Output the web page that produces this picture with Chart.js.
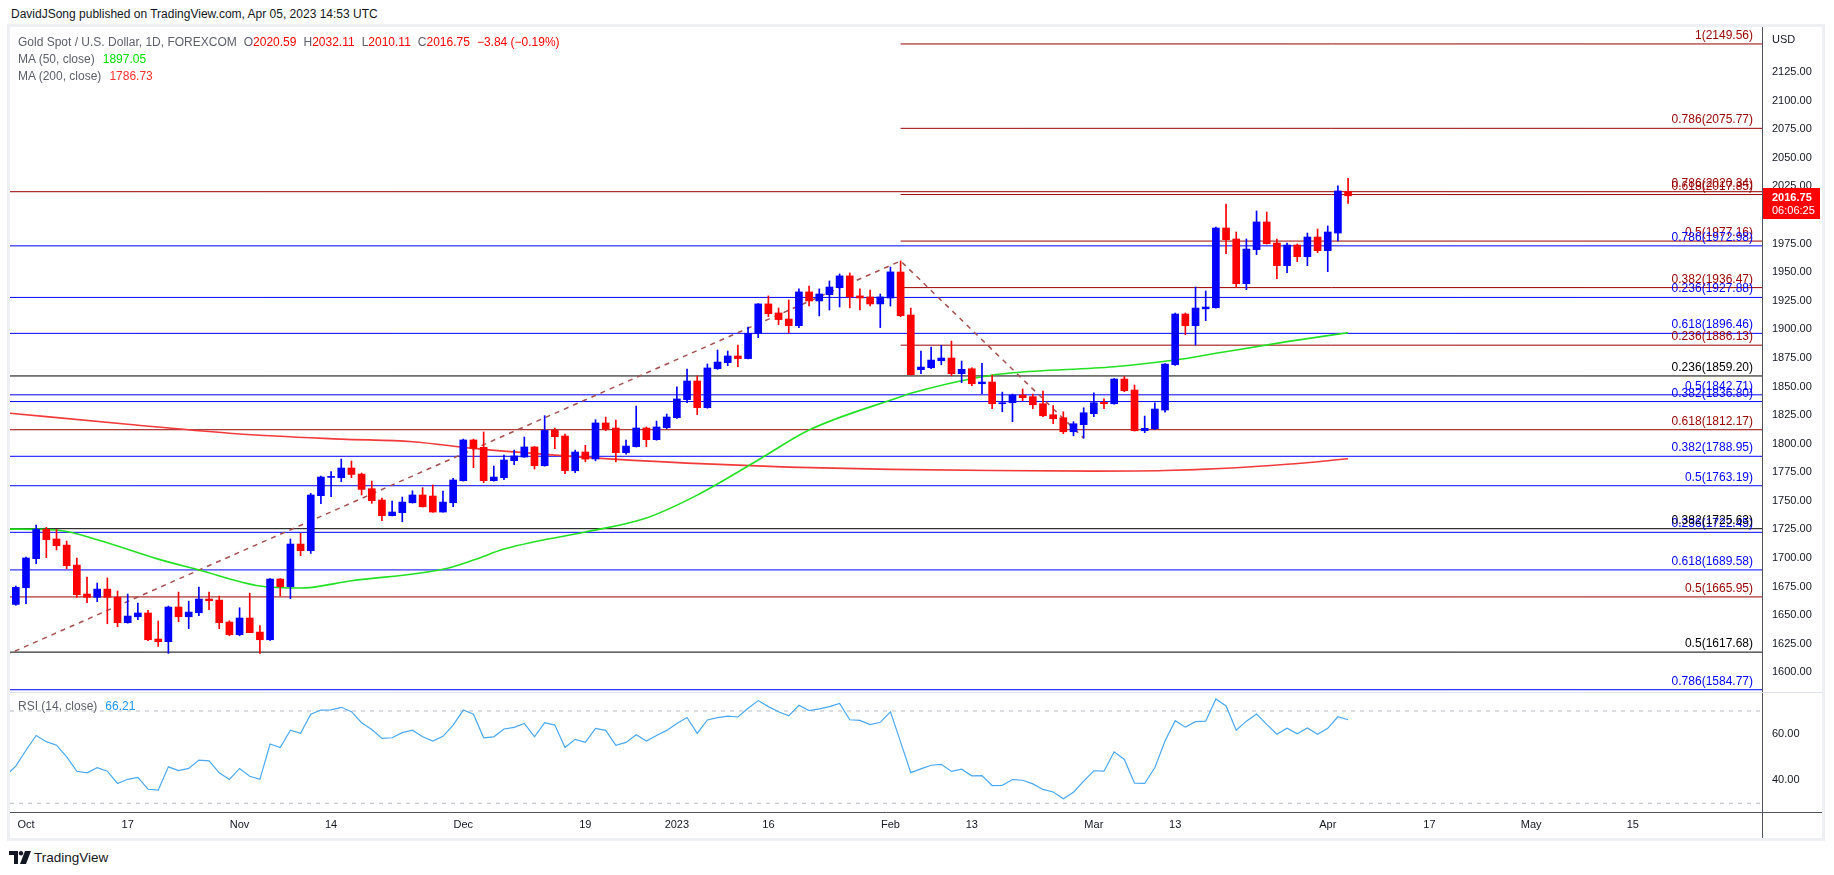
<!DOCTYPE html>
<html>
<head>
<meta charset="utf-8">
<title>Gold Spot / U.S. Dollar, 1D, FOREXCOM</title>
<script src="https://cdn.jsdelivr.net/npm/chart.js@4.4.1/dist/chart.umd.min.js"></script>
<style>
  body { margin: 0; width: 1834px; height: 875px; background: #fff; position: relative; overflow: hidden;
         font-family: "Liberation Sans", Arial, sans-serif; color: #131722; }
  .abs { position: absolute; white-space: nowrap; }
  #frame { position: absolute; left: 7px; top: 24px; width: 1812px; height: 811px; border: 3px solid #eef0f4; }
  #mainBox { position: absolute; left: 10px; top: 27px; width: 1812px; height: 665px; }
  #rsiBox { position: absolute; left: 10px; top: 692px; width: 1812px; height: 146px; }
  .legend { font-size: 12px; line-height: 15px; color: #5d606b; }
  .red { color: #ff0000; }
  .gap { margin-left: 7px; }
</style>
</head>
<body>
<div id="frame"></div>
<div id="mainBox"><canvas id="mainChart"></canvas></div>
<div id="rsiBox"><canvas id="rsiChart"></canvas></div>
<div class="abs" style="left:10px;top:692px;width:1812px;height:1px;background:#e0e3eb"></div>
<div class="abs" style="left:1762px;top:812px;width:60px;height:1px;background:#50535e"></div>
<div class="abs" style="left:1762px;top:812px;width:1px;height:26px;background:#50535e"></div>

<div class="abs" style="left:11px;top:7px;font-size:12px;line-height:15px;color:#131722">DavidJSong published on TradingView.com, Apr 05, 2023 14:53 UTC</div>
<div class="abs legend" style="left:18px;top:35px">Gold Spot / U.S. Dollar, 1D, FOREXCOM<span class="gap">O</span><span class="red">2020.59</span><span class="gap">H</span><span class="red">2032.11</span><span class="gap">L</span><span class="red">2010.11</span><span class="gap">C</span><span class="red">2016.75</span><span class="gap red">−3.84 (−0.19%)</span></div>
<div class="abs legend" style="left:18px;top:52px">MA (50, close)<span style="margin-left:8px;color:#00dd00">1897.05</span></div>
<div class="abs legend" style="left:18px;top:69px">MA (200, close)<span style="margin-left:8px;color:#ff3030">1786.73</span></div>
<div class="abs legend" style="left:18px;top:699px">RSI (14, close)<span style="margin-left:8px;color:#2196f3">66.21</span></div>

<div class="abs" style="left:9px;top:849px;height:16px;display:flex;align-items:center">
  <svg width="22" height="13" viewBox="0 0 22 13"><path d="M0 0H9V13H5V4H0Z" fill="#131722"/><circle cx="12" cy="2.2" r="2.2" fill="#131722"/><path d="M16 0H22L17 13H11Z" fill="#131722"/></svg>
  <span style="margin-left:3px;font-size:13.5px;color:#131722">TradingView</span>
</div>

<script>
// bar index 0 = Oct 3 2022 (weekdays, Dec 26 and Jan 2 missing); first candle is Sep 30
const firstBar = -1;
const open = [
  1659.4, 1674.0, 1699.4, 1725.0, 1716.6, 1711.3, 1693.8, 1668.5, 1665.6, 1672.8,
  1665.6, 1643.4, 1648.6, 1651.9, 1629.1, 1626.8, 1657.1, 1648.6, 1652.1, 1664.1,
  1663.2, 1644.0, 1632.9, 1647.5, 1635.2, 1628.5, 1681.6, 1674.9, 1712.2, 1706.4,
  1754.5, 1770.5, 1770.2, 1778.7, 1773.4, 1760.6, 1750.7, 1737.0, 1739.6, 1748.3,
  1755.1, 1754.2, 1740.2, 1748.3, 1767.6, 1803.2, 1796.8, 1767.6, 1770.2, 1785.1,
  1788.3, 1797.1, 1780.7, 1811.6, 1806.7, 1776.3, 1792.7, 1786.6, 1818.1, 1813.7,
  1792.1, 1797.4, 1813.7, 1803.5, 1814.0, 1822.7, 1838.5, 1854.8, 1831.5, 1865.6,
  1870.8, 1876.7, 1874.4, 1896.5, 1922.2, 1914.3, 1909.0, 1903.2, 1932.7, 1924.8,
  1930.3, 1936.4, 1946.7, 1929.2, 1928.3, 1922.2, 1927.4, 1950.1, 1912.5, 1864.7,
  1866.4, 1872.5, 1874.9, 1861.2, 1865.5, 1852.4, 1853.9, 1834.9, 1835.8, 1842.5,
  1841.1, 1834.9, 1825.3, 1822.7, 1810.4, 1816.6, 1826.2, 1836.1, 1834.9, 1856.5,
  1846.9, 1811.3, 1813.1, 1829.4, 1869.0, 1913.4, 1903.2, 1917.9, 1918.9, 1988.6,
  1979.0, 1939.9, 1969.7, 1993.9, 1975.5, 1955.7, 1973.7, 1963.5, 1980.7, 1968.8,
  1984.2, 2020.59
];
const high = [
  1675.5, 1700.8, 1728.8, 1726.8, 1725.0, 1714.8, 1700.0, 1683.4, 1678.1, 1682.5,
  1671.1, 1668.5, 1660.6, 1654.2, 1644.9, 1658.0, 1670.2, 1662.3, 1674.6, 1670.2,
  1666.7, 1645.1, 1656.5, 1669.3, 1640.8, 1682.0, 1682.0, 1716.6, 1721.6, 1756.5,
  1771.7, 1775.5, 1786.5, 1784.8, 1774.3, 1767.3, 1752.4, 1749.8, 1753.3, 1758.8,
  1761.5, 1763.8, 1758.6, 1769.6, 1804.0, 1804.0, 1810.2, 1780.4, 1790.0, 1794.4,
  1805.8, 1797.5, 1824.5, 1813.7, 1808.4, 1794.4, 1798.6, 1821.0, 1823.3, 1820.7,
  1803.2, 1832.9, 1814.6, 1819.8, 1825.9, 1849.6, 1865.3, 1859.2, 1869.7, 1881.9,
  1881.0, 1886.3, 1902.0, 1922.5, 1929.2, 1918.7, 1925.7, 1935.3, 1937.9, 1935.3,
  1942.3, 1948.4, 1949.3, 1935.3, 1934.4, 1930.9, 1954.5, 1959.8, 1918.6, 1881.0,
  1884.5, 1886.0, 1889.7, 1872.3, 1866.4, 1870.2, 1860.0, 1845.1, 1843.4, 1847.8,
  1843.4, 1846.0, 1833.2, 1827.9, 1819.2, 1831.4, 1844.5, 1839.3, 1857.0, 1858.8,
  1851.3, 1824.1, 1835.8, 1870.0, 1914.2, 1914.3, 1937.0, 1933.5, 1989.5, 2009.6,
  1985.1, 1979.0, 2003.5, 2002.6, 1979.0, 1975.5, 1974.6, 1984.2, 1987.7, 1990.4,
  2025.4, 2032.11
];
const low = [
  1658.6, 1660.0, 1695.0, 1700.3, 1707.0, 1690.6, 1665.6, 1660.9, 1661.8, 1642.5,
  1639.9, 1643.0, 1646.0, 1627.7, 1622.7, 1616.6, 1644.3, 1638.2, 1649.5, 1654.8,
  1638.2, 1632.0, 1632.0, 1634.7, 1616.6, 1628.0, 1666.7, 1664.4, 1702.0, 1704.0,
  1747.5, 1753.6, 1766.7, 1770.2, 1755.1, 1747.8, 1732.6, 1736.8, 1731.7, 1748.0,
  1744.6, 1740.0, 1740.0, 1744.8, 1767.2, 1779.0, 1765.8, 1767.2, 1768.5, 1781.6,
  1788.0, 1777.8, 1780.3, 1795.6, 1773.7, 1774.6, 1784.2, 1785.0, 1811.4, 1784.0,
  1790.9, 1797.0, 1797.4, 1803.0, 1813.1, 1822.0, 1835.9, 1825.4, 1831.0, 1865.0,
  1868.2, 1867.3, 1874.0, 1892.7, 1911.1, 1904.1, 1897.1, 1901.5, 1920.4, 1911.7,
  1916.9, 1919.5, 1918.7, 1916.9, 1920.4, 1901.5, 1920.4, 1911.0, 1860.0, 1861.2,
  1865.5, 1869.0, 1859.4, 1853.3, 1850.7, 1843.7, 1830.5, 1827.9, 1819.2, 1837.6,
  1830.5, 1823.6, 1817.4, 1808.7, 1806.9, 1804.8, 1823.6, 1830.5, 1834.5, 1845.4,
  1811.0, 1809.6, 1812.2, 1827.6, 1868.5, 1895.3, 1886.3, 1907.6, 1918.5, 1966.2,
  1936.4, 1934.7, 1965.3, 1974.5, 1944.3, 1949.5, 1959.2, 1955.7, 1967.0, 1950.4,
  1977.2, 2010.11
];
const close = [
  1674.3, 1700.0, 1725.0, 1716.0, 1710.8, 1693.3, 1667.9, 1665.6, 1672.8, 1665.6,
  1643.4, 1649.2, 1651.9, 1628.5, 1626.8, 1657.1, 1648.6, 1652.7, 1664.1, 1662.6,
  1643.4, 1632.9, 1647.5, 1634.7, 1628.5, 1681.6, 1674.9, 1712.2, 1706.4, 1755.1,
  1770.8, 1771.0, 1778.7, 1773.1, 1760.0, 1750.1, 1737.0, 1740.2, 1748.9, 1755.1,
  1744.8, 1740.2, 1748.9, 1768.2, 1803.2, 1795.9, 1767.6, 1770.8, 1785.7, 1789.2,
  1797.1, 1780.7, 1811.6, 1806.1, 1776.3, 1792.7, 1786.5, 1818.1, 1812.8, 1792.1,
  1797.9, 1813.7, 1803.5, 1814.6, 1823.3, 1839.1, 1854.8, 1831.5, 1866.2, 1871.4,
  1876.7, 1874.4, 1896.5, 1922.2, 1913.7, 1908.5, 1903.2, 1932.7, 1924.8, 1930.9,
  1937.0, 1946.7, 1928.3, 1927.4, 1922.2, 1928.3, 1950.2, 1911.9, 1860.3, 1867.0,
  1873.1, 1874.9, 1861.2, 1865.0, 1852.4, 1853.9, 1834.9, 1835.8, 1842.5, 1840.2,
  1834.0, 1824.4, 1821.8, 1810.4, 1817.4, 1827.0, 1835.8, 1834.9, 1856.5, 1846.3,
  1811.3, 1813.4, 1830.3, 1869.6, 1913.4, 1903.2, 1918.6, 1919.5, 1988.6, 1978.4,
  1939.9, 1970.2, 1993.9, 1974.9, 1955.7, 1973.7, 1963.5, 1980.7, 1968.8, 1985.1,
  2021.0, 2016.75
];

// moving averages, read at a few bars along each curve
const ma50Idx = [-2, 3, 7, 13, 17, 23, 27, 32, 41, 44, 47, 50, 55, 61, 66, 72, 77, 86, 87, 94, 97, 107, 113, 117, 124, 130];
const ma50Val = [1725.3, 1724.5, 1716.0, 1699.0, 1689.5, 1675.5, 1673.7, 1680.1, 1690.1, 1698.2, 1707.8, 1714.2, 1722.7,
                 1735.0, 1755.0, 1785.7, 1811.9, 1841.0, 1844.0, 1858.5, 1862.0, 1867.3, 1873.1, 1879.0, 1889.2, 1897.05];
const ma200Idx = [-2, 10, 21, 31, 38, 44, 49, 55, 65, 75, 85, 95, 105, 112, 118, 124, 130];
const ma200Val = [1827.0, 1817.0, 1808.4, 1804.0, 1801.7, 1795.9, 1792.1, 1788.0, 1783.0, 1779.5, 1777.5, 1776.5, 1776.0,
                  1776.5, 1778.5, 1782.0, 1786.73];

// trend line: Sep 28 low -> Feb 2 high -> Feb 28 low
const trendIdx = [-2, 86, 104];
const trendVal = [1614.96, 1959.76, 1804.76];

// fibonacci levels
const fibRatio = ['1', '0.786', '0.618', '0.5', '0.382', '0.236',
                  '0.786', '0.618', '0.5',
                  '0.786', '0.618', '0.5', '0.382', '0.236',
                  '0.236', '0.382', '0.5', '0.618', '0.786',
                  '0.236', '0.382', '0.5'];
const fibPrice = [2149.56, 2075.77, 2017.85, 1977.16, 1936.47, 1886.13,
                  2020.34, 1812.17, 1665.95,
                  1972.98, 1896.46, 1842.71, 1788.95, 1722.45,
                  1927.88, 1836.80, 1763.19, 1689.58, 1584.77,
                  1859.20, 1725.63, 1617.68];
const fibSet = ['A', 'A', 'A', 'A', 'A', 'A', 'B', 'B', 'B', 'C', 'C', 'C', 'C', 'C',
                'D', 'D', 'D', 'D', 'D', 'E', 'E', 'E'];

// RSI (14), first value is bar -2
const rsiFirst = -2;
const rsi = [
  42.0, 46.1, 53.0, 59.4, 56.7, 55.2, 50.1, 43.9, 43.2, 45.4,
  43.9, 38.6, 40.4, 41.2, 36.1, 35.7, 45.8, 44.2, 45.1, 48.7,
  48.4, 43.2, 40.3, 45.1, 41.7, 40.4, 55.7, 54.2, 61.7, 60.3,
  68.6, 70.4, 70.5, 71.6, 69.7, 64.9, 62.0, 58.1, 58.4, 60.6,
  61.7, 58.8, 57.0, 59.0, 63.9, 70.4, 68.6, 58.4, 58.8, 62.2,
  62.9, 64.6, 58.8, 64.9, 63.9, 54.2, 57.7, 56.4, 62.5, 61.6,
  55.1, 56.4, 59.7, 57.0, 59.4, 61.6, 64.6, 67.2, 60.3, 66.1,
  67.1, 67.8, 67.4, 71.2, 74.5, 71.9, 69.7, 67.9, 72.5, 70.2,
  70.9, 71.9, 73.3, 66.2, 65.9, 64.1, 65.1, 69.6, 56.5, 43.3,
  44.9, 46.5, 46.9, 43.8, 44.8, 41.9, 42.0, 37.7, 37.8, 40.3,
  40.0, 38.4, 36.0, 34.9, 32.0, 34.8, 39.6, 44.1, 43.9, 52.3,
  49.0, 38.7, 38.6, 45.5, 57.0, 65.8, 63.0, 65.4, 65.6, 75.2,
  72.2, 61.7, 65.6, 68.7, 64.2, 59.9, 62.5, 60.1, 62.6, 59.9,
  62.5, 67.5, 66.21
];
const rsiBands = [70, 30];

// axes
const dateTickIdx = [0, 10, 21, 30, 43, 55, 64, 73, 85, 93, 105, 113, 128, 138, 148, 158];
const dateTickLbl = ['Oct', '17', 'Nov', '14', 'Dec', '19', '2023', '16', 'Feb', '13', 'Mar', '13', 'Apr', '17', 'May', '15'];
const priceTicks = [1600, 1625, 1650, 1675, 1700, 1725, 1750, 1775, 1800, 1825, 1850, 1875, 1900, 1925, 1950, 1975, 2000, 2025, 2050, 2075, 2100, 2125];
const rsiTicks = [40, 60];

const xMin = -1.573, xMax = 170.7;
const FONT = '"Liberation Sans", Arial, sans-serif';
const UP = '#0000ff', DOWN = '#ff0000';
const setColor = { A: '#990000', B: '#990000', C: '#0000ff', D: '#0000ff', E: '#000000' };
const setFrom = { A: 86 };

Chart.defaults.font.family = FONT;

function zeroPad(scale) {
    scale.paddingTop = 0;
    scale.paddingBottom = 0;
    scale.paddingLeft = 0;
    scale.paddingRight = 0;
}

function fibDatasets() {
    return fibPrice.map((p, k) => ({
        type: 'line',
        data: [{ x: setFrom[fibSet[k]] !== undefined ? setFrom[fibSet[k]] : xMin, y: p }, { x: xMax, y: p }],
        borderColor: setColor[fibSet[k]],
        borderWidth: 1,
        pointRadius: 0,
        order: 5
    }));
}

const fibLabels = {
    id: 'fibLabels',
    afterDatasetsDraw(chart) {
        const { ctx, chartArea, scales: { y } } = chart;
        ctx.save();
        ctx.font = '12px ' + FONT;
        ctx.textAlign = 'right';
        ctx.textBaseline = 'alphabetic';
        fibPrice.forEach((p, k) => {
            ctx.fillStyle = setColor[fibSet[k]];
            ctx.fillText(fibRatio[k] + '(' + p.toFixed(2) + ')', chartArea.right - 9, y.getPixelForValue(p) - 5);
        });
        ctx.restore();
    }
};

const priceTag = {
    id: 'priceTag',
    afterDraw(chart) {
        const { ctx, chartArea, scales: { y } } = chart;
        const last = close[close.length - 1];
        const py = Math.round(y.getPixelForValue(last));
        ctx.save();
        ctx.textBaseline = 'middle';
        ctx.textAlign = 'left';
        ctx.fillStyle = '#131722';
        ctx.font = '11px ' + FONT;
        ctx.fillText('USD', chartArea.right + 10, 13);
        ctx.fillStyle = '#ff0000';
        ctx.fillRect(chartArea.right + 1, py - 8, 57, 31);
        ctx.fillStyle = '#ffffff';
        ctx.font = 'bold 11px ' + FONT;
        ctx.fillText(last.toFixed(2), chartArea.right + 10, py + 2);
        ctx.font = '11px ' + FONT;
        ctx.fillText('06:06:25', chartArea.right + 10, py + 15);
        ctx.restore();
    }
};

function createMainChart(ctx) {
    const bars = open.map((o, k) => firstBar + k);
    const colors = open.map((o, k) => close[k] >= o ? UP : DOWN);
    return new Chart(ctx, {
        type: 'bar',
        data: {
            datasets: [
                {
                    type: 'bar',
                    data: bars.map((x, k) => ({ x: x, y: [open[k], close[k]] })),
                    backgroundColor: colors,
                    barThickness: 7,
                    minBarLength: 1,
                    grouped: false,
                    order: 0
                },
                {
                    type: 'bar',
                    data: bars.map((x, k) => ({ x: x, y: [low[k], high[k]] })),
                    backgroundColor: colors,
                    barThickness: 1,
                    grouped: false,
                    order: 1
                },
                {
                    type: 'line',
                    data: ma50Idx.map((x, k) => ({ x: x, y: ma50Val[k] })),
                    borderColor: '#22e022',
                    borderWidth: 1.6,
                    pointRadius: 0,
                    cubicInterpolationMode: 'monotone',
                    order: 2
                },
                {
                    type: 'line',
                    data: ma200Idx.map((x, k) => ({ x: x, y: ma200Val[k] })),
                    borderColor: '#f23a3a',
                    borderWidth: 1.6,
                    pointRadius: 0,
                    cubicInterpolationMode: 'monotone',
                    order: 3
                },
                {
                    type: 'line',
                    data: trendIdx.map((x, k) => ({ x: x, y: trendVal[k] })),
                    borderColor: '#a5504f',
                    borderWidth: 1.5,
                    borderDash: [5, 5],
                    pointRadius: 0,
                    order: 4
                },
                ...fibDatasets()
            ]
        },
        options: {
            responsive: true,
            maintainAspectRatio: false,
            animation: false,
            events: [],
            layout: { padding: 0 },
            plugins: { legend: { display: false }, tooltip: { enabled: false } },
            scales: {
                x: { type: 'linear', min: xMin, max: xMax, offset: false, display: false },
                y: {
                    type: 'linear',
                    position: 'right',
                    min: 1582.8,
                    max: 2164.4,
                    grid: { display: false, drawTicks: false },
                    border: { display: true, color: '#50535e' },
                    ticks: {
                        padding: 10,
                        color: '#131722',
                        font: { size: 11 },
                        callback: (v) => v.toFixed(2)
                    },
                    afterBuildTicks: (s) => { s.ticks = priceTicks.map(v => ({ value: v })); },
                    afterFit: (s) => { s.width = 60; zeroPad(s); }
                }
            }
        },
        plugins: [fibLabels, priceTag]
    });
}

function createRsiChart(ctx) {
    return new Chart(ctx, {
        type: 'line',
        data: {
            datasets: [
                {
                    data: rsi.map((v, k) => ({ x: rsiFirst + k, y: v })),
                    borderColor: '#4aa8f2',
                    borderWidth: 1.2,
                    pointRadius: 0,
                    order: 0
                },
                ...rsiBands.map(b => ({
                    data: [{ x: xMin, y: b }, { x: xMax, y: b }],
                    borderColor: '#b8bbc4',
                    borderWidth: 1,
                    borderDash: [4, 5],
                    pointRadius: 0,
                    order: 1
                }))
            ]
        },
        options: {
            responsive: true,
            maintainAspectRatio: false,
            animation: false,
            events: [],
            layout: { padding: 0 },
            plugins: { legend: { display: false }, tooltip: { enabled: false } },
            scales: {
                x: {
                    type: 'linear',
                    min: xMin,
                    max: xMax,
                    grid: { display: false, drawTicks: false },
                    border: { display: true, color: '#50535e' },
                    ticks: {
                        padding: 6,
                        color: '#131722',
                        font: { size: 11 },
                        maxRotation: 0,
                        autoSkip: false,
                        callback: (v, i) => dateTickLbl[i]
                    },
                    afterBuildTicks: (s) => { s.ticks = dateTickIdx.map(v => ({ value: v })); },
                    afterFit: (s) => { s.height = 26; zeroPad(s); }
                },
                y: {
                    type: 'linear',
                    position: 'right',
                    min: 26.23,
                    max: 78.23,
                    grid: { display: false, drawTicks: false },
                    border: { display: true, color: '#50535e' },
                    ticks: {
                        padding: 10,
                        color: '#131722',
                        font: { size: 11 },
                        callback: (v) => v.toFixed(2)
                    },
                    afterBuildTicks: (s) => { s.ticks = rsiTicks.map(v => ({ value: v })); },
                    afterFit: (s) => { s.width = 60; zeroPad(s); }
                }
            }
        }
    });
}

createMainChart(document.getElementById('mainChart').getContext('2d'));
createRsiChart(document.getElementById('rsiChart').getContext('2d'));
</script>
</body>
</html>
